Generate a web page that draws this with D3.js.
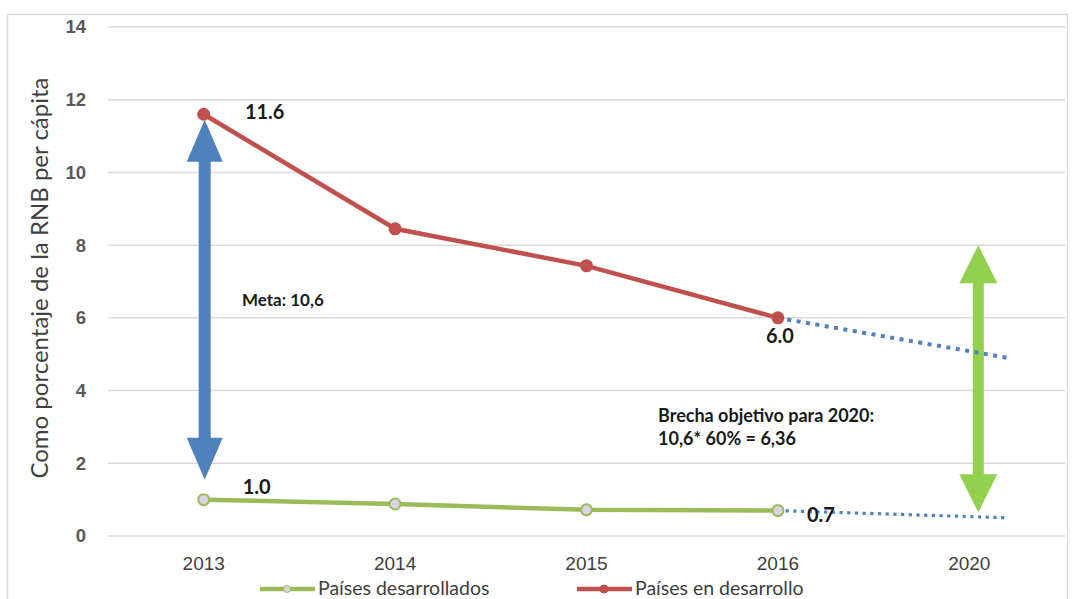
<!DOCTYPE html>
<html>
<head>
<meta charset="utf-8">
<script src="https://cdn.jsdelivr.net/npm/d3@7"></script>
<style>
  body { margin: 0; background: #fff; }
  svg { font-family: Lato, "Liberation Sans", sans-serif; }
</style>
</head>
<body>
<svg id="chart" width="1072" height="599"></svg>
<script>
// data
const years = ["2013", "2014", "2015", "2016", "2020"];
const developing = [11.6, 8.45, 7.43, 6.0];
const developed = [1.0, 0.88, 0.72, 0.7];
const developingProj = [6.0, 4.9];
const developedProj = [0.7, 0.5];
const yTicks = [0, 2, 4, 6, 8, 10, 12, 14];
const seriesNames = ["Países desarrollados", "Países en desarrollo"];

const svg = d3.select("#chart");
const plotLeft = 108, plotRight = 1065, plotTop = 27, plotBottom = 536;

// outer frame
svg.append("rect")
  .attr("x", 7.5).attr("y", 14.5)
  .attr("width", 1060).attr("height", 600)
  .attr("fill", "none").attr("stroke", "#d9d9d9").attr("stroke-width", 1.5);

const x = d3.scaleBand().domain(years).range([plotLeft, plotRight]);
const cx = d => x(d) + x.bandwidth() / 2;
const y = d3.scaleLinear().domain([0, 14]).range([plotBottom, plotTop]);

// gridlines
svg.append("g")
  .selectAll("line")
  .data(yTicks)
  .enter()
  .append("line")
  .attr("x1", plotLeft).attr("x2", plotRight)
  .attr("y1", d => y(d)).attr("y2", d => y(d))
  .attr("stroke", "#d9d9d9").attr("stroke-width", 1.5);

// y axis labels
const yAxis = svg.append("g")
  .attr("transform", "translate(" + (plotLeft - 22) + ",0)")
  .call(d3.axisLeft(y).tickValues(yTicks).tickSize(0).tickPadding(0));
yAxis.select(".domain").remove();
yAxis.selectAll("text")
  .style("font-size", "18.5px").style("font-weight", "bold")
  .attr("fill", "#595959");

// x axis labels
const xAxis = svg.append("g")
  .attr("transform", "translate(0," + (plotBottom + 20) + ")")
  .call(d3.axisBottom(x).tickSize(0).tickPadding(0));
xAxis.select(".domain").remove();
xAxis.selectAll("text")
  .style("font-size", "19px")
  .attr("fill", "#404040");

// y title
svg.append("text")
  .attr("transform", "translate(48,278)rotate(-90)")
  .attr("text-anchor", "middle")
  .style("font-size", "24px")
  .attr("fill", "#404040")
  .text("Como porcentaje de la RNB per cápita");

// double arrows
function doubleArrow(xc, y1, y2, color, shaft, headW, headH) {
  const p = d3.path();
  p.moveTo(xc, y1);
  p.lineTo(xc + headW / 2, y1 + headH);
  p.lineTo(xc + shaft / 2, y1 + headH);
  p.lineTo(xc + shaft / 2, y2 - headH);
  p.lineTo(xc + headW / 2, y2 - headH);
  p.lineTo(xc, y2);
  p.lineTo(xc - headW / 2, y2 - headH);
  p.lineTo(xc - shaft / 2, y2 - headH);
  p.lineTo(xc - shaft / 2, y1 + headH);
  p.lineTo(xc - headW / 2, y1 + headH);
  p.closePath();
  svg.append("path").attr("d", p.toString()).attr("fill", color);
}
doubleArrow(cx("2013") + 1, y(11.45), y(1.55), "#4f81bd", 12, 36, 42);
doubleArrow(cx("2020") + 9, y(8.0), y(0.65), "#92d050", 11, 38, 38);

// projections (dotted)
const projX = [cx("2016"), cx("2020") + x.bandwidth() * 0.2];
const projLine = d3.line().x((d, i) => projX[i]).y(d => y(d));
svg.append("path").datum(developingProj)
  .attr("d", projLine).attr("fill", "none")
  .attr("stroke", "#4f81bd").attr("stroke-width", 4)
  .attr("stroke-dasharray", "4,5.5");
svg.append("path").datum(developedProj)
  .attr("d", projLine).attr("fill", "none")
  .attr("stroke", "#4f81bd").attr("stroke-width", 3.2)
  .attr("stroke-dasharray", "3.2,4.5");

// main series
const line = d3.line().x((d, i) => cx(years[i])).y(d => y(d));
svg.append("path").datum(developed)
  .attr("d", line).attr("fill", "none")
  .attr("stroke", "#9bbb59").attr("stroke-width", 4.5);
svg.selectAll(".devd")
  .data(developed)
  .enter()
  .append("circle")
  .attr("cx", (d, i) => cx(years[i])).attr("cy", d => y(d))
  .attr("r", 5.5)
  .attr("fill", "#d9d3e3").attr("stroke", "#9bbb59").attr("stroke-width", 2);

svg.append("path").datum(developing)
  .attr("d", line).attr("fill", "none")
  .attr("stroke", "#c0504d").attr("stroke-width", 4.5);
svg.selectAll(".devg")
  .data(developing)
  .enter()
  .append("circle")
  .attr("cx", (d, i) => cx(years[i])).attr("cy", d => y(d))
  .attr("r", 6.5)
  .attr("fill", "#c0504d");

// value labels
const valueLabels = [
  { t: d3.format(".1f")(developing[0]), x: cx("2013") + 61, y: y(developing[0]) + 5 },
  { t: d3.format(".1f")(developed[0]), x: cx("2013") + 53, y: y(developed[0]) - 6 },
  { t: d3.format(".1f")(developing[3]), x: cx("2016") + 2, y: y(developing[3]) + 25 },
  { t: d3.format(".1f")(developed[3]), x: cx("2016") + 43, y: y(developed[3]) + 11 }
];
svg.selectAll(".vl")
  .data(valueLabels)
  .enter()
  .append("text")
  .attr("x", d => d.x).attr("y", d => d.y)
  .attr("text-anchor", "middle")
  .style("font-size", "20px").style("font-weight", "bold")
  .attr("fill", "#1a1a1a")
  .text(d => d.t);

// annotations
svg.append("text")
  .attr("x", 242).attr("y", 306)
  .style("font-size", "17px").style("font-weight", "bold")
  .attr("fill", "#1a1a1a")
  .text("Meta: 10,6");
svg.append("text")
  .attr("x", 658).attr("y", 422)
  .style("font-size", "18px").style("font-weight", "bold")
  .attr("fill", "#1a1a1a")
  .text("Brecha objetivo para 2020:");
svg.append("text")
  .attr("x", 658).attr("y", 445)
  .style("font-size", "18px").style("font-weight", "bold")
  .attr("fill", "#1a1a1a")
  .text("10,6* 60% = 6,36");

// legend
const legend = [
  { name: seriesNames[0], color: "#9bbb59", x: 260, fill: "#d9d3e3", r: 3.5 },
  { name: seriesNames[1], color: "#c0504d", x: 577, fill: "#c0504d", r: 4 }
];
const lg = svg.selectAll(".lg")
  .data(legend)
  .enter()
  .append("g")
  .attr("transform", d => "translate(" + d.x + ",589)");
lg.append("line")
  .attr("x1", 0).attr("x2", 55).attr("y1", 0).attr("y2", 0)
  .attr("stroke", d => d.color).attr("stroke-width", 4.5);
lg.append("circle")
  .attr("cx", 27).attr("cy", 0).attr("r", d => d.r)
  .attr("fill", d => d.fill).attr("stroke", d => d.color).attr("stroke-width", 1);
lg.append("text")
  .attr("x", 58).attr("y", 6)
  .style("font-size", "19.5px")
  .attr("fill", "#404040")
  .text(d => d.name);
</script>
</body>
</html>
